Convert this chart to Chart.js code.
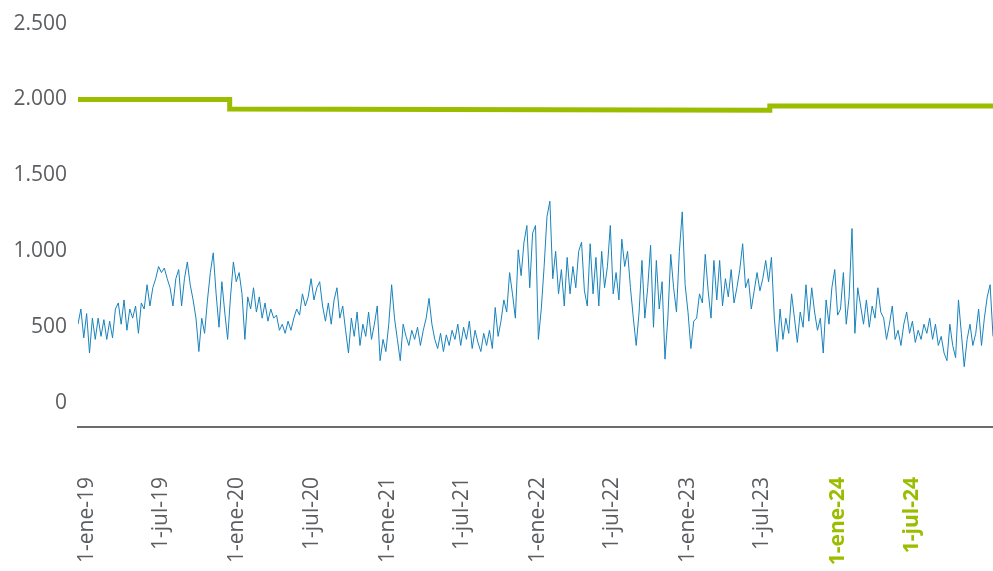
<!DOCTYPE html>
<html lang="es">
<head>
<meta charset="utf-8">
<title>Serie diaria</title>
<script src="https://cdn.jsdelivr.net/npm/chart.js@4.4.1/dist/chart.umd.min.js"></script>
<style>
    html, body { margin: 0; padding: 0; background: #fff; }
    #wrap { width: 993px; height: 571px; position: relative; }
</style>
</head>
<body>
<div id="wrap"><canvas id="chart"></canvas></div>
<script>
// ---------------------------------------------------------------------------
// Data (one value per week)
// ---------------------------------------------------------------------------
const serieStart = '2018-12-10';
const serieStepDays = 7;
const serieValues = [
    520, 620, 430, 590, 330, 560, 420, 560, 440, 550,
    420, 540, 430, 620, 660, 520, 680, 480, 620, 560,
    640, 460, 660, 620, 780, 640, 760, 820, 900, 860,
    890, 820, 760, 640, 820, 880, 640, 820, 930, 780,
    680, 560, 340, 560, 460, 680, 860, 990, 720, 500,
    800, 600, 420, 700,
    930, 800, 860, 720, 420, 700, 620, 760, 600, 700,
    560, 660, 540, 620, 560, 580, 480, 520, 460, 540,
    480, 560, 620, 580, 720, 640, 700, 820, 680, 760,
    800, 640, 540, 660, 520, 680, 760, 560, 640, 480,
    330, 560, 440, 600, 380, 520, 440, 600, 420, 520,
    640, 280, 420,
    340, 520, 780, 560, 420, 280, 520, 440, 380, 480,
    420, 500, 380, 480, 560, 690, 520, 420, 360, 460,
    340, 450, 380, 480, 420, 520, 380, 500, 420, 540,
    360, 480, 400, 340, 460, 380, 480, 360, 630, 440,
    540, 680, 600, 860, 720, 560, 1010, 840, 1060, 1170,
    760, 1120, 1170,
    420, 620, 900, 1230, 1330, 820, 1000, 720, 880, 640,
    960, 720, 900, 760, 1000, 1060, 740, 640, 1050, 720,
    960, 640, 1000, 760, 900, 1170, 720, 860, 680, 1080,
    900, 1000, 760, 560, 380, 600, 940, 560, 760, 1040,
    500, 940, 620, 800, 290, 560, 980, 760, 600, 1000,
    1260, 780, 600, 360, 540,
    560, 720, 660, 980, 740, 560, 940, 680, 940, 640,
    820, 700, 880, 660, 760, 880, 1050, 760, 820, 620,
    740, 860, 740, 820, 940, 800, 960, 560, 340, 620,
    420, 560, 460, 720, 560, 400, 600, 500, 780, 540,
    760, 600, 480, 560, 330, 680, 520, 760, 880, 580,
    620, 860, 520, 700,
    1150, 460, 760, 640, 520, 680, 500, 640, 560, 760,
    600, 560, 420, 520, 640, 420, 480, 380, 520, 600,
    460, 540, 400, 480, 420, 520, 460, 560, 420, 520,
    380, 440, 330, 280, 520, 380, 300, 680, 460, 240,
    420, 520, 380, 460, 620, 380, 560, 700, 780, 440
];

// Green reference level (step line)
const levelDates = ['2018-12-10', '2019-12-14', '2019-12-14', '2023-07-20', '2023-07-20', '2025-01-13'];
const levelValues = [2000, 2000, 1937, 1930, 1958, 1958];

// Axis ticks
const xTickDates = [
    '2019-01-01', '2019-07-01', '2020-01-01', '2020-07-01', '2021-01-01', '2021-07-01',
    '2022-01-01', '2022-07-01', '2023-01-01', '2023-07-01', '2024-01-01', '2024-07-01'
];
const xTickLabels = [
    '1-ene-19', '1-jul-19', '1-ene-20', '1-jul-20', '1-ene-21', '1-jul-21',
    '1-ene-22', '1-jul-22', '1-ene-23', '1-jul-23', '1-ene-24', '1-jul-24'
];
const highlightFrom = 10;   // labels from this index on are green + bold
const yTicks = [0, 500, 1000, 1500, 2000, 2500];

// ---------------------------------------------------------------------------
// Helpers
// ---------------------------------------------------------------------------
const DAY = 86400000;
const ORIGIN = Date.UTC(2019, 0, 1);

function toDay(iso) {
    const [y, m, d] = iso.split('-').map(Number);
    return Math.round((Date.UTC(y, m - 1, d) - ORIGIN) / DAY);
}

function formatEs(v) {
    if (v < 1000) return String(v);
    return Math.floor(v / 1000) + '.' + String(v % 1000).padStart(3, '0');
}

const GRAY = '#5b5d60';
const GREEN = '#9bbd00';
const BLUE = '#1883bb';
const FONT = '"Open Sans", "Noto Sans", sans-serif';

const startDay = toDay(serieStart);
const seriePoints = serieValues.map((v, i) => ({ x: startDay + i * serieStepDays, y: v }));
const levelPoints = levelDates.map((d, i) => ({ x: toDay(d), y: levelValues[i] }));
const xTickDays = xTickDates.map(toDay);

// ---------------------------------------------------------------------------
// Chart
// ---------------------------------------------------------------------------
new Chart(document.getElementById('chart'), {
    type: 'line',
    data: {
        datasets: [{
            label: 'Nivel',
            data: levelPoints,
            borderColor: GREEN,
            borderWidth: 5,
            pointRadius: 0,
            tension: 0,
            order: 0
        }, {
            label: 'Serie',
            data: seriePoints,
            borderColor: BLUE,
            borderWidth: 1,
            pointRadius: 0,
            tension: 0,
            order: 1
        }]
    },
    options: {
        responsive: true,
        maintainAspectRatio: false,
        animation: false,
        layout: {
            padding: { top: 20, right: 0, bottom: 0, left: 0 }
        },
        plugins: {
            legend: { display: false },
            tooltip: { enabled: false }
        },
        scales: {
            x: {
                type: 'linear',
                min: startDay,
                max: startDay + (serieValues.length - 1) * serieStepDays,
                afterBuildTicks: (axis) => {
                    axis.ticks = xTickDays.map(v => ({ value: v }));
                },
                afterFit: (axis) => { axis.height = 144; },
                grid: { display: false, drawTicks: false },
                border: { display: true, color: '#6a6c6f', width: 2 },
                ticks: {
                    autoSkip: false,
                    minRotation: 90,
                    maxRotation: 90,
                    padding: 50,
                    callback: (value, index) => xTickLabels[index],
                    color: (ctx) => ctx.index >= highlightFrom ? GREEN : GRAY,
                    font: (ctx) => ({
                        family: FONT,
                        size: 21,
                        weight: ctx.index >= highlightFrom ? 'bold' : 'normal'
                    })
                }
            },
            y: {
                min: -157,
                max: 2500,
                afterBuildTicks: (axis) => {
                    axis.ticks = yTicks.map(v => ({ value: v }));
                },
                afterFit: (axis) => { axis.width = 78; },
                grid: { display: false, drawTicks: false },
                border: { display: false },
                ticks: {
                    padding: 11,
                    color: GRAY,
                    font: { family: FONT, size: 21 },
                    callback: (value) => formatEs(value)
                }
            }
        }
    }
});
</script>
</body>
</html>
